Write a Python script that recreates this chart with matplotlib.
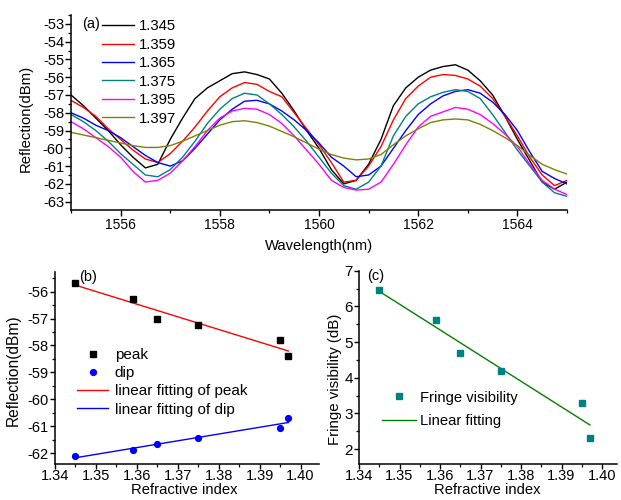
import numpy as np
import matplotlib
matplotlib.use("Agg")
import matplotlib.pyplot as plt
from matplotlib.ticker import MultipleLocator

plt.rcParams['font.family'] = ['Liberation Sans', 'DejaVu Sans']
plt.rcParams['axes.unicode_minus'] = False

# ---------------- data: panel (a) spectra ----------------
wavelength = [1555.00, 1555.25, 1555.50, 1555.75, 1556.00, 1556.25, 1556.50, 1556.75,
              1557.00, 1557.25, 1557.50, 1557.75, 1558.00, 1558.25, 1558.50, 1558.75,
              1559.00, 1559.25, 1559.50, 1559.75, 1560.00, 1560.25, 1560.50, 1560.75,
              1561.00, 1561.25, 1561.50, 1561.75, 1562.00, 1562.25, 1562.50, 1562.75,
              1563.00, 1563.25, 1563.50, 1563.75, 1564.00, 1564.25, 1564.50, 1564.75,
              1565.00]

ri_labels = ["1.345", "1.359", "1.365", "1.375", "1.395", "1.397"]

spec_1345 = [-57.0, -57.6, -58.3, -59.0, -59.8, -60.5, -61.1, -60.9,
             -59.5, -58.3, -57.2, -56.6, -56.2, -55.8, -55.7, -55.85,
             -56.1, -56.9, -57.9, -59.0, -60.0, -61.2, -62.0, -61.8,
             -60.9, -59.5, -57.6, -56.6, -56.0, -55.6, -55.4, -55.3,
             -55.6, -56.2, -57.0, -58.2, -59.5, -60.7, -61.9, -62.3,
             -61.9]
spec_1359 = [-57.3, -57.7, -58.2, -58.9, -59.5, -60.1, -60.6, -60.8,
             -60.3, -59.6, -58.8, -57.9, -57.1, -56.6, -56.3, -56.4,
             -56.8, -57.1, -58.0, -58.9, -59.8, -60.8, -61.9, -61.8,
             -61.0, -59.9, -58.4, -57.2, -56.5, -56.0, -55.85, -55.9,
             -56.1, -56.5, -57.2, -58.2, -59.3, -60.5, -61.5, -62.1,
             -61.8]
spec_1365 = [-58.0, -58.3, -58.7, -59.0, -59.4, -59.9, -60.4, -60.8,
             -61.0, -60.7, -60.0, -59.2, -58.4, -57.8, -57.35, -57.3,
             -57.5, -57.9, -58.4, -59.0, -59.7, -60.5, -61.0, -61.6,
             -61.5, -61.0, -60.0, -59.0, -58.1, -57.5, -57.05, -56.8,
             -56.7, -56.9, -57.4, -58.1, -59.0, -60.2, -61.3, -61.7,
             -62.0]
spec_1375 = [-58.1, -58.5, -59.0, -59.6, -60.3, -60.9, -61.5, -61.6,
             -61.2, -60.5, -59.6, -58.6, -57.8, -57.2, -56.9, -57.0,
             -57.5, -58.1, -58.8, -59.6, -60.5, -61.4, -62.1, -62.3,
             -61.9, -61.0, -59.3, -58.2, -57.5, -57.1, -56.85, -56.7,
             -56.8, -57.2, -58.1, -59.1, -60.1, -61.0, -61.9, -62.5,
             -62.7]
spec_1395 = [-58.5, -58.9, -59.4, -59.9, -60.5, -61.3, -61.9, -61.8,
             -61.4, -60.7, -59.9, -59.0, -58.3, -57.9, -57.75, -57.8,
             -58.1, -58.6, -59.3, -60.1, -60.9, -61.8, -62.2, -62.35,
             -62.3, -61.9, -60.9, -59.8, -58.8, -58.2, -57.95, -57.7,
             -57.8, -58.1, -58.6, -59.2, -59.9, -60.9, -61.8, -62.3,
             -62.6]
spec_1397 = [-59.1, -59.25, -59.4, -59.55, -59.7, -59.85, -59.95, -59.95,
             -59.85, -59.6, -59.3, -59.0, -58.7, -58.5, -58.45, -58.55,
             -58.75, -59.05, -59.35, -59.7, -60.05, -60.35, -60.55, -60.65,
             -60.6, -60.35, -59.8, -59.3, -58.9, -58.55, -58.4, -58.35,
             -58.4, -58.65, -59.0, -59.4, -59.85, -60.4, -60.9, -61.2,
             -61.45]

# ---------------- data: panels (b) and (c) ----------------
ri = [1.345, 1.359, 1.365, 1.375, 1.395, 1.397]
peak = [-55.67, -56.27, -57.0, -57.23, -57.79, -58.4]
dip = [-62.12, -61.89, -61.64, -61.42, -61.05, -60.71]
visibility = [6.46, 5.63, 4.68, 4.19, 3.29, 2.32]

ri_ticks = [1.34, 1.35, 1.36, 1.37, 1.38, 1.39, 1.40]
ri_ticklabels = ["1.34", "1.35", "1.36", "1.37", "1.38", "1.39", "1.40"]

spec_colors = ["#000000", "#ff0000", "#0000ff", "#008080", "#ff00ff", "#808000"]

fig = plt.figure(figsize=(6.21, 5.0), dpi=100)

def style(ax, xsize, ysize, xpad=1.5, ticklen=4):
    for s in ("top", "right"):
        ax.spines[s].set_visible(False)
    for s in ("left", "bottom"):
        ax.spines[s].set_linewidth(1.1)
    ax.tick_params(which="major", direction="out", length=ticklen, width=1.0)
    ax.tick_params(which="minor", direction="out", length=2.2, width=0.9)
    ax.tick_params(axis="x", labelsize=xsize, pad=xpad)
    ax.tick_params(axis="y", labelsize=ysize, pad=1)

# ---------------- panel (a) ----------------
axa = fig.add_axes([71/621, 1-210/500, 496/621, 195/500])
series = [spec_1345, spec_1359, spec_1365, spec_1375, spec_1395, spec_1397]
for vals, lab, c in zip(series, ri_labels, spec_colors):
    axa.plot(wavelength, vals, color=c, lw=1.0, label=lab)
axa.set_xlim(1555, 1565)
axa.set_ylim(-63.47, -52.5)
axa.xaxis.set_major_locator(MultipleLocator(2))
axa.xaxis.set_minor_locator(MultipleLocator(1))
axa.yaxis.set_major_locator(MultipleLocator(1))
axa.yaxis.set_minor_locator(MultipleLocator(0.5))
style(axa, 10, 10.5)
axa.set_xticks([1556, 1558, 1560, 1562, 1564])
axa.set_xlabel("Wavelength(nm)", fontsize=10.6)
axa.set_ylabel("Reflection(dBm)", fontsize=10.7)
axa.xaxis.set_label_coords(0.5, -0.15)
axa.yaxis.set_label_coords(-0.078, 0.47)
axa.text(0.022, 0.955, "(a)", transform=axa.transAxes, fontsize=10.5,
         ha="left", va="center")
axa.legend(loc="upper left", bbox_to_anchor=(0.062, 0.978), frameon=False,
           fontsize=10.7, handlelength=2.2, handletextpad=0.3,
           labelspacing=0.3, borderpad=0, borderaxespad=0)

# ---------------- panel (b) ----------------
bot = 464.0
axb = fig.add_axes([55/621, 1-bot/500, 264/621, (bot-271.7)/500])
pfit = np.polyfit(ri, peak, 1)
dfit = np.polyfit(ri, dip, 1)
xr = np.array([min(ri), max(ri)])
axb.plot(ri, peak, "s", color="black", ms=4.2, label="peak", zorder=3)
axb.plot(ri, dip, "o", color="#0000ff", ms=4.2, label="dip", zorder=3)
axb.plot(xr, np.polyval(pfit, xr), color="#ff0000", lw=1.0,
         label="linear fitting of peak")
axb.plot(xr, np.polyval(dfit, xr), color="#0000ff", lw=1.0,
         label="linear fitting of dip")
axb.set_xlim(1.34, 1.4045)
axb.set_ylim(-62.4, -55.26)
axb.xaxis.set_minor_locator(MultipleLocator(0.005))
axb.yaxis.set_major_locator(MultipleLocator(1))
axb.yaxis.set_minor_locator(MultipleLocator(0.5))
axb.set_xticks(ri_ticks)
axb.set_xticklabels(ri_ticklabels)
style(axb, 10.5, 10.5, xpad=0.3, ticklen=3.5)
axb.set_xlabel("Refractive index", fontsize=10.6)
axb.set_ylabel("Reflection(dBm)", fontsize=11.2)
axb.xaxis.set_label_coords(0.49, -0.1)
axb.yaxis.set_label_coords(-0.13, 0.49)
axb.text(0.09, 0.975, "(b)", transform=axb.transAxes, fontsize=10.5,
         ha="left", va="center")
axb.legend(loc="upper left", bbox_to_anchor=(0.085, 0.604), frameon=False,
           fontsize=11, handlelength=2.0, handletextpad=0.45,
           labelspacing=0.28, borderpad=0, borderaxespad=0, numpoints=1)

# ---------------- panel (c) ----------------
axc = fig.add_axes([359/621, 1-bot/500, 258/621, (bot-270.7)/500])
vfit = np.polyfit(ri, visibility, 1)
axc.plot(ri, visibility, "s", color="#008080", ms=4.2,
         label="Fringe visibility", zorder=3)
axc.plot(xr, np.polyval(vfit, xr), color="#008000", lw=1.0,
         label="Linear fitting")
axc.set_xlim(1.34, 1.4037)
axc.set_ylim(1.58, 7.0)
axc.xaxis.set_minor_locator(MultipleLocator(0.005))
axc.yaxis.set_minor_locator(MultipleLocator(0.5))
axc.set_xticks(ri_ticks)
axc.set_xticklabels(ri_ticklabels)
axc.set_yticks([2, 3, 4, 5, 6, 7])
style(axc, 10.5, 11, xpad=0.3, ticklen=3.5)
axc.set_xlabel("Refractive index", fontsize=10.6)
axc.set_ylabel("Fringe visibility (dB)", fontsize=10.8)
axc.xaxis.set_label_coords(0.498, -0.1)
axc.yaxis.set_label_coords(-0.066, 0.44)
axc.text(0.03, 0.975, "(c)", transform=axc.transAxes, fontsize=10.5,
         ha="left", va="center")
axc.legend(loc="upper left", bbox_to_anchor=(0.09, 0.38), frameon=False,
           fontsize=10.6, handlelength=2.3, handletextpad=0.3,
           labelspacing=0.65, borderpad=0, borderaxespad=0, numpoints=1)

fig.savefig("out.png", dpi=100)
